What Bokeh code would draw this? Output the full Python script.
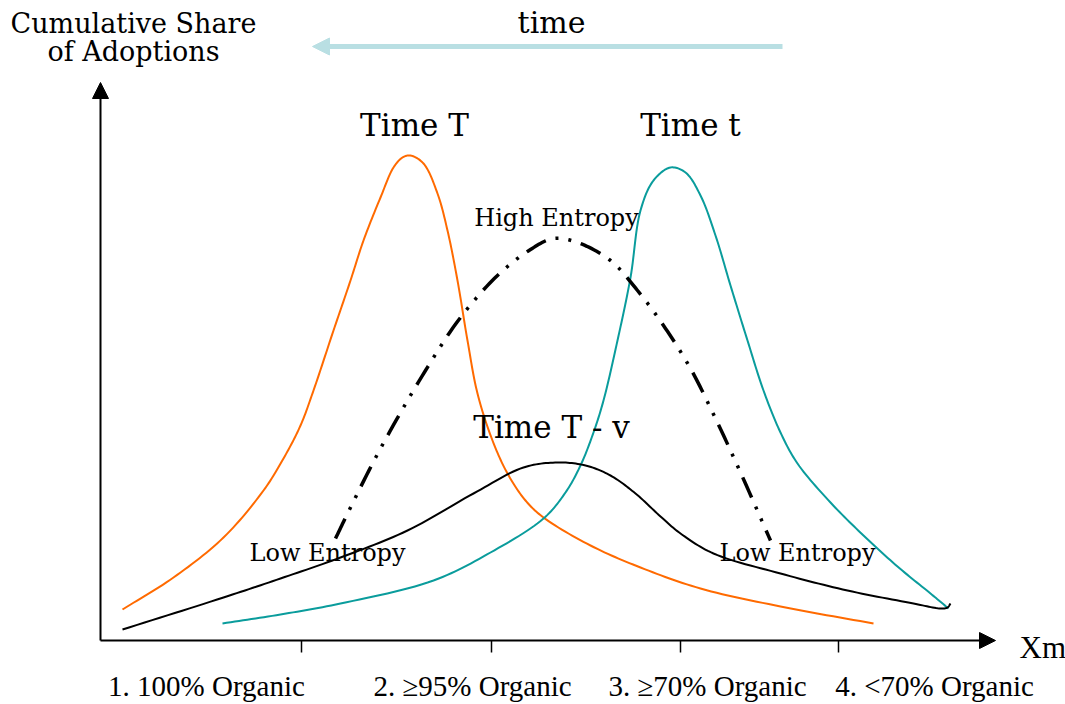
import numpy as np
from bokeh.plotting import figure
from bokeh.models import Range1d, Arrow, NormalHead
from bokeh.core.properties import value
from bokeh.embed import file_html
from bokeh.resources import INLINE

# ---- data (diagram units: x along Xm axis, y = cumulative share) ----
time_T_x = [22, 73, 123, 163, 183, 200, 213, 233, 250, 263, 280, 293, 302, 310, 323, 337, 347, 357, 367, 377, 392, 407, 425, 443, 490, 540, 600, 680, 773]
time_T_y = [31, 63, 103, 150, 182, 215, 250, 310, 360, 400, 443, 473, 483, 485, 477, 447, 410, 360, 300, 247, 200, 167, 140, 123, 95, 73, 52, 34, 17]

time_t_x = [122, 180, 240, 333, 390, 443, 465, 480, 493, 503, 517, 530, 540, 553, 570, 585, 600, 615, 630, 647, 663, 680, 697, 730, 763, 797, 830, 848]
time_t_y = [17, 26, 37, 60, 88, 122, 148, 175, 208, 240, 300, 363, 430, 460, 473, 468, 445, 405, 355, 300, 250, 208, 177, 138, 105, 74, 47, 32]

time_Tv_x = [22, 123, 180, 240, 307, 373, 423, 457, 485, 510, 535, 560, 580, 613, 680, 747, 813, 840, 847, 850]
time_Tv_y = [11, 43, 62, 83, 110, 147, 173, 178, 175, 165, 147, 124, 107, 87, 67, 50, 37, 32, 33, 37]

entropy_x = [235, 250, 280, 325, 360, 397, 430, 453, 477, 510, 537, 563, 590, 615, 640, 670]
entropy_y = [102, 133, 192, 270, 323, 365, 391, 402, 398, 380, 350, 315, 272, 222, 168, 100]

tick_x = [201, 391, 580, 738]
category_x = [106, 372, 607, 834]
category_labels = ["1. 100% Organic", "2. \u226595% Organic", "3. \u226570% Organic", "4. <70% Organic"]

ORANGE = "#FF6A00"
TEAL = "#0A9C9C"
LIGHTBLUE = "#B9DFE3"
SERIF = value("DejaVu Serif")


def smooth(xs, ys, n=14):
    """Centripetal Catmull-Rom rendering path through the read points."""
    P = np.column_stack([xs, ys]).astype(float)
    P = np.vstack([2 * P[0] - P[1], P, 2 * P[-1] - P[-2]])
    out = []
    for i in range(1, len(P) - 2):
        p0, p1, p2, p3 = P[i - 1], P[i], P[i + 1], P[i + 2]
        t0 = 0.0
        t1 = t0 + np.linalg.norm(p1 - p0) ** 0.5
        t2 = t1 + np.linalg.norm(p2 - p1) ** 0.5
        t3 = t2 + np.linalg.norm(p3 - p2) ** 0.5
        t = np.linspace(t1, t2, n, endpoint=False)[:, None]
        A1 = (t1 - t) / (t1 - t0) * p0 + (t - t0) / (t1 - t0) * p1
        A2 = (t2 - t) / (t2 - t1) * p1 + (t - t1) / (t2 - t1) * p2
        A3 = (t3 - t) / (t3 - t2) * p2 + (t - t2) / (t3 - t2) * p3
        B1 = (t2 - t) / (t2 - t0) * A1 + (t - t0) / (t2 - t0) * A2
        B2 = (t3 - t) / (t3 - t1) * A2 + (t - t1) / (t3 - t1) * A3
        C = (t2 - t) / (t2 - t1) * B1 + (t - t1) / (t2 - t1) * B2
        out.append(C)
    out.append(P[-2][None, :])
    out = np.vstack(out)
    return out[:, 0], out[:, 1]


p = figure(width=1065, height=704, x_range=Range1d(-100, 965), y_range=Range1d(-64, 640),
           output_backend="svg", toolbar_location=None, min_border=0,
           x_axis_type=None, y_axis_type=None)
p.grid.visible = False
p.outline_line_color = None
p.background_fill_color = "white"

# axes as arrows
p.add_layout(Arrow(end=NormalHead(size=16, fill_color="black", line_color="black", line_width=1),
                   x_start=0, y_start=0, x_end=0, y_end=558, line_width=2, line_color="black"))
p.add_layout(Arrow(end=NormalHead(size=16, fill_color="black", line_color="black", line_width=1),
                   x_start=0, y_start=0, x_end=895, y_end=0, line_width=2, line_color="black"))
p.segment(x0=tick_x, y0=[0] * len(tick_x), x1=tick_x, y1=[-12] * len(tick_x), line_color="black", line_width=1.5)

# time arrow
p.add_layout(Arrow(end=NormalHead(size=17, fill_color=LIGHTBLUE, line_color=LIGHTBLUE, line_width=1),
                   x_start=682, y_start=594, x_end=212, y_end=594, line_width=5, line_color=LIGHTBLUE))

# curves
for xs, ys, col, lw, dash in [
    (time_T_x, time_T_y, ORANGE, 2, "solid"),
    (time_t_x, time_t_y, TEAL, 2, "solid"),
    (time_Tv_x, time_Tv_y, "black", 2, "solid"),
    (entropy_x, entropy_y, "black", 3.5, "22 10 3 10 3 10"),
]:
    sx, sy = smooth(xs, ys)
    p.line(sx, sy, line_color=col, line_width=lw, line_join="round", line_dash=dash)


# texts
def txt(x, y, t, size, align="center", font=SERIF):
    p.text(x=[x], y=[y], text=[t], text_font=font, text_font_size=size,
           text_align=align, text_baseline="alphabetic", text_color="black")


txt(33, 617, "Cumulative Share", "27px")
txt(33, 589, "of Adoptions", "27px")
txt(451, 618, "time", "30px")
txt(314, 516, "Time T", "31px")
txt(590, 516, "Time t", "31px")
txt(456, 423, "High Entropy", "24px")
txt(451, 214, "Time T - v", "31px")
txt(227, 88, "Low Entropy", "24px")
txt(697, 88, "Low Entropy", "24px")
txt(919, -7, "Xm", "31px", align="left", font=value("Liberation Serif"))

p.text(x=category_x, y=[-45] * len(category_x), text=category_labels,
       text_font=value("Liberation Serif"), text_font_size="29px",
       text_align="center", text_baseline="alphabetic", text_color="black")

open("out.html", "w").write(file_html(p, INLINE))
